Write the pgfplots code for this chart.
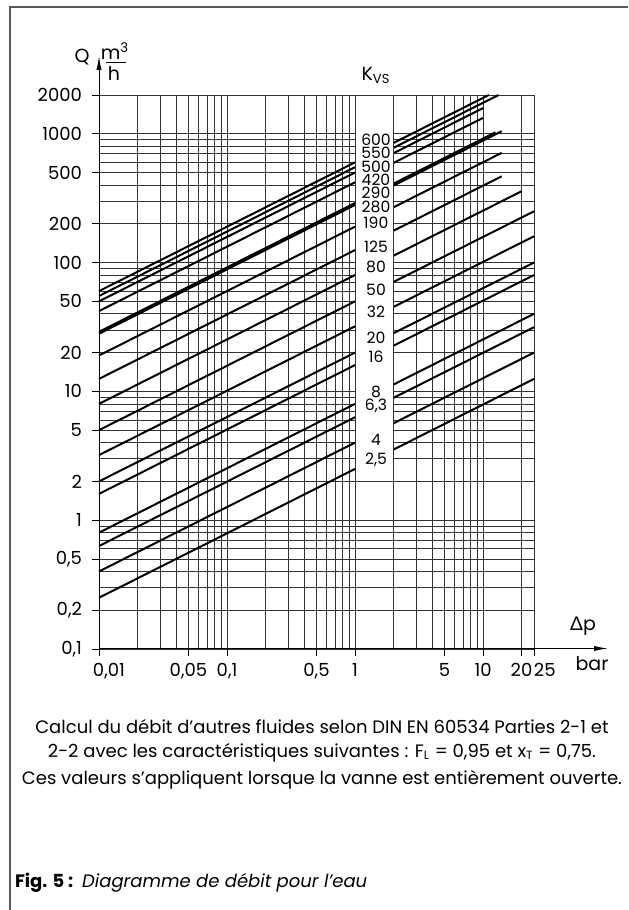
\documentclass[border=0pt]{standalone}
\usepackage{pgfplots}
\pgfplotsset{compat=1.18}
\usetikzlibrary{arrows.meta}
\usepackage{fontspec}
\setmainfont{Poppins}
\newfontfamily\symfont{Lato}
\pgfplotsset{kvs/.style={black, solid, line width=1pt, mark=none}}

\begin{document}
\begin{tikzpicture}
\begin{axis}[
    at={(49.5pt,130.5pt)}, anchor=south west,
    scale only axis, width=217.5pt, height=277pt,
    xmode=log, ymode=log,
    xmin=0.01, xmax=25, ymin=0.1, ymax=2000,
    axis lines=left, axis line style={draw=none},
    grid=both,
    major grid style={black!80, line width=0.35pt},
    minor grid style={black!80, line width=0.35pt},
    xtick={0.01,0.05,0.1,0.5,1,5,10,20,25},
    xticklabels={{\makebox[0pt][l]{\hspace{-3pt}0,01}},{0,05},{0,1},{0,5},1,5,10,20,{\makebox[0pt][l]{25}}},
    minor xtick={0.02,0.03,0.04,0.06,0.07,0.08,0.09,0.2,0.3,0.4,0.6,0.7,0.8,0.9,2,3,4,6,7,8,9},
    ytick={0.1,0.2,0.5,1,2,5,10,20,50,100,200,500,1000,2000},
    yticklabels={{0,1},{0,2},{0,5},1,2,5,10,20,50,100,200,500,1000,2000},
    minor ytick={0.3,0.4,0.6,0.7,0.8,0.9,3,4,6,7,8,9,30,40,60,70,80,90,300,400,600,700,800,900},
    tick align=outside, major tick length=3.5pt, minor tick length=0pt,
    tick style={black, line width=0.45pt},
    tick label style={font=\fontsize{9}{10}\selectfont},
    yticklabel style={xshift=-1.5pt},
    clip=false, unbounded coords=jump,
]
% K_vs = 600 ... 2,5 ; left part 0,01..1 bar, right part 2 bar .. end
\addplot[kvs] coordinates {(0.01,60) (1,600) (1.5,nan) (2,848.5) (11.11,2000)};
\addplot[kvs] coordinates {(0.01,55) (1,550) (1.5,nan) (2,777.8) (13.22,2000)};
\addplot[kvs] coordinates {(0.01,50) (1,500) (1.5,nan) (2,707.1) (10,1581.1)};
\addplot[kvs] coordinates {(0.01,42) (1,420) (1.5,nan) (2,594.0) (10,1328.2)};
\addplot[kvs] coordinates {(0.01,29) (1,290) (1.5,nan) (2,410.1) (12.5,1025.3)};
\addplot[kvs] coordinates {(0.01,28) (1,280) (1.5,nan) (2,396.0) (14,1047.6)};
\addplot[kvs] coordinates {(0.01,19) (1,190) (1.5,nan) (2,268.7) (14,710.9)};
\addplot[kvs] coordinates {(0.01,12.5) (1,125) (1.5,nan) (2,176.8) (14,467.7)};
\addplot[kvs] coordinates {(0.01,8) (1,80) (1.5,nan) (2,113.1) (20,357.8)};
\addplot[kvs] coordinates {(0.01,5) (1,50) (1.5,nan) (2,70.71) (25,250)};
\addplot[kvs] coordinates {(0.01,3.2) (1,32) (1.5,nan) (2,45.25) (25,160)};
\addplot[kvs] coordinates {(0.01,2) (1,20) (1.5,nan) (2,28.28) (25,100)};
\addplot[kvs] coordinates {(0.01,1.6) (1,16) (1.5,nan) (2,22.63) (25,80)};
\addplot[kvs] coordinates {(0.01,0.8) (1,8) (1.5,nan) (2,11.31) (25,40)};
\addplot[kvs] coordinates {(0.01,0.63) (1,6.3) (1.5,nan) (2,8.91) (25,31.5)};
\addplot[kvs] coordinates {(0.01,0.4) (1,4) (1.5,nan) (2,5.657) (25,20)};
\addplot[kvs] coordinates {(0.01,0.25) (1,2.5) (1.5,nan) (2,3.536) (25,12.5)};
% white column for the K_vs labels
\fill[white] (axis cs:1,2) rectangle (axis cs:2,2000);
\draw[black!80, line width=0.35pt] (axis cs:1,2) -- (axis cs:1,2000)
  (axis cs:2,2) -- (axis cs:2,2000) (axis cs:1,2000) -- (axis cs:2,2000);
\end{axis}

\begin{scope}[x=0.5pt, y=-0.5pt, shift={(0pt,455pt)}]
  % page frame
  \draw[black!65, line width=0.7pt] (10,910) -- (10,7) -- (628,7);
  % axes with arrows
  \draw[line width=0.5pt, -{Latex[length=7pt,width=2.6pt]}] (99,649) -- (99,56);
  \draw[line width=0.5pt, -{Latex[length=7pt,width=2.6pt]}] (99,648.5) -- (608,648.5);
  \begin{scope}[font=\fontsize{9.5}{10}\selectfont]
    \node at (82,57) {Q};
    \node[inner sep=0pt] at (115,51) {m\textsuperscript{3}};
    \draw[line width=0.45pt] (106,62) -- (126,62);
    \node[inner sep=0pt] at (114,73) {h};
    \node at (376,75) {K\textsubscript{\fontsize{6.5}{6.5}\selectfont VS}};
    \node at (583,626) {{\symfont Δ}p};
    \node at (592,664) {bar};
  \end{scope}
  \begin{scope}[font=\fontsize{7.8}{7.8}\selectfont, inner sep=0pt]
    \node at (376,140) {600};
    \node at (376,153) {550};
    \node at (376,167) {500};
    \node at (376,180) {420};
    \node at (376,193) {290};
    \node at (376,207) {280};
    \node at (376,223) {190};
    \node at (376,247) {125};
    \node at (376,267) {80};
    \node at (376,290) {50};
    \node at (376,312) {32};
    \node at (376,338) {20};
    \node at (376,357) {16};
    \node at (376,392) {8};
    \node at (376,406) {6,3};
    \node at (376,440) {4};
    \node at (376,460) {2,5};
  \end{scope}
  \begin{scope}[font=\fontsize{9}{10}\selectfont]
    \node at (322,727) {Calcul du débit d’autres fluides selon DIN EN 60534 Parties 2-1 et};
    \node at (322,753) {2-2 avec les caractéristiques suivantes : F\textsubscript{L} = 0,95 et x\textsubscript{T} = 0,75.};
    \node at (322,780) {Ces valeurs s’appliquent lorsque la vanne est entièrement ouverte.};
    \node[anchor=west] at (8,883) {\textbf{Fig. 5 :}\enspace\textit{Diagramme de débit pour l’eau}};
  \end{scope}
\end{scope}
\pgfresetboundingbox
\path[use as bounding box] (0,0) rectangle (314pt,455pt);
\end{tikzpicture}
\end{document}
